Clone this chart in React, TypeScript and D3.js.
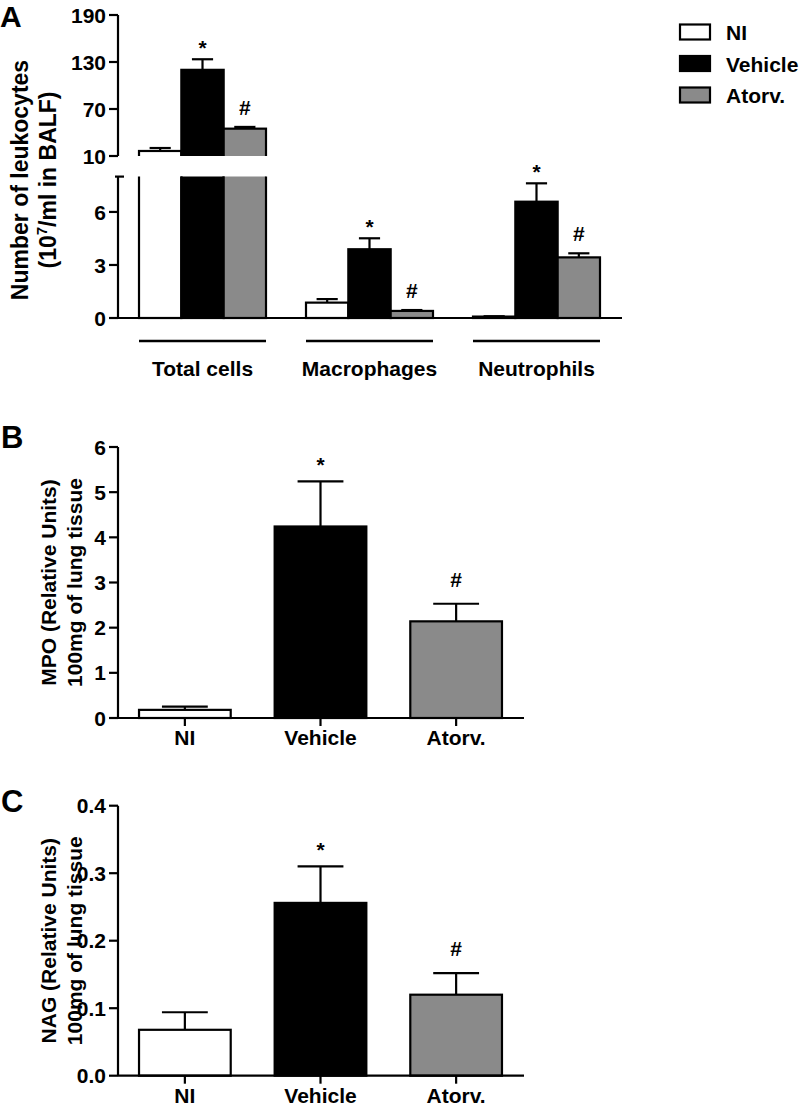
import React from "react";
import * as d3 from "d3";

// ---------- data ----------
const seriesNames = ["NI", "Vehicle", "Atorv."];
const seriesMarks = ["", "*", "#"];

const groupsA = ["Total cells", "Macrophages", "Neutrophils"];
const niA = [16.4, 0.87, 0.08];
const niAErr = [3.8, 0.2, 0.02];
const vehA = [120, 3.89, 6.58];
const vehAErr = [13.5, 0.62, 1.04];
const atoA = [44.9, 0.4, 3.43];
const atoAErr = [2.2, 0.05, 0.23];
const upperDomainA = [10, 190];
const upperTicksA = [10, 70, 130, 190];
const lowerDomainA = [0, 8];
const lowerTicksA = [0, 3, 6];

const valuesB = [0.18, 4.24, 2.14];
const errB = [0.07, 1.0, 0.39];
const ticksB = [0, 1, 2, 3, 4, 5, 6];

const valuesC = [0.068, 0.256, 0.12];
const errC = [0.026, 0.054, 0.032];
const ticksC = [0, 0.1, 0.2, 0.3, 0.4];

// ---------- style ----------
const FONT = "'Liberation Sans', Arial, Helvetica, sans-serif";
const FS = 21;
const fills: Record<string, string> = { NI: "#ffffff", Vehicle: "#000000", "Atorv.": "#8a8a8a" };
const SW = 2.2;
const AXIS_X = 118;

function ErrorBar({ cx, yTop, yCap, w }: { cx: number; yTop: number; yCap: number; w: number }) {
  return (
    <g stroke="#000" strokeWidth={SW} fill="none">
      <line x1={cx} x2={cx} y1={yTop} y2={yCap} />
      <line x1={cx - w / 2} x2={cx + w / 2} y1={yCap} y2={yCap} />
    </g>
  );
}

function Mark({ mark, cx, yCap }: { mark: string; cx: number; yCap: number }) {
  if (!mark) return null;
  const y = mark === "*" ? yCap - 4 : yCap - 12;
  return (
    <text x={cx} y={y} textAnchor="middle" fontSize={FS} fontWeight="bold" fontFamily={FONT}>
      {mark}
    </text>
  );
}

function YTicks({ scale, ticks, fmt }: { scale: (v: number) => number; ticks: number[]; fmt: (v: number) => string }) {
  return (
    <g>
      {ticks.map((t) => (
        <g key={t}>
          <line x1={AXIS_X - 9} x2={AXIS_X} y1={scale(t)} y2={scale(t)} stroke="#000" strokeWidth={SW} />
          <text
            x={AXIS_X - 12}
            y={scale(t)}
            dy="0.36em"
            textAnchor="end"
            fontSize={FS}
            fontWeight="bold"
            fontFamily={FONT}
          >
            {fmt(t)}
          </text>
        </g>
      ))}
    </g>
  );
}

function PanelA() {
  const yUp = d3.scaleLinear().domain(upperDomainA).range([156, 15]);
  const yLo = d3.scaleLinear().domain(lowerDomainA).range([318, 176.6]);
  const x0 = d3.scaleBand().domain(groupsA).range([119, 620]).paddingInner(0.2395).paddingOuter(0.1198);
  const x1 = d3.scaleBand().domain(seriesNames).range([0, x0.bandwidth()]);
  const vals = [niA, vehA, atoA];
  const errs = [niAErr, vehAErr, atoAErr];
  const bw = x1.bandwidth();
  const loTop = yLo(lowerDomainA[1]);
  return (
    <g>
      <defs>
        <clipPath id="clipUp">
          <rect x={0} y={0} width={800} height={yUp(upperDomainA[0])} />
        </clipPath>
        <clipPath id="clipLo">
          <rect x={0} y={loTop} width={800} height={yLo(0) - loTop + 3} />
        </clipPath>
      </defs>
      {groupsA.map((g, gi) =>
        seriesNames.map((s, si) => {
          const v = vals[si][gi];
          const e = errs[si][gi];
          const bx = (x0(g) as number) + (x1(s) as number);
          const cx = bx + bw / 2;
          if (v > lowerDomainA[1]) {
            const yTop = yUp(v);
            const yCap = yUp(v + e);
            return (
              <g key={g + s}>
                <rect
                  x={bx}
                  y={loTop - 10}
                  width={bw}
                  height={yLo(0) - loTop + 10}
                  fill={fills[s]}
                  stroke="#000"
                  strokeWidth={SW}
                  clipPath="url(#clipLo)"
                />
                <rect
                  x={bx}
                  y={yTop}
                  width={bw}
                  height={yUp(upperDomainA[0]) - yTop + 10}
                  fill={fills[s]}
                  stroke="#000"
                  strokeWidth={SW}
                  clipPath="url(#clipUp)"
                />
                <ErrorBar cx={cx} yTop={yTop} yCap={yCap} w={bw / 2} />
                <Mark mark={seriesMarks[si]} cx={cx} yCap={yCap} />
              </g>
            );
          }
          const yTop = yLo(v);
          const yCap = yLo(v + e);
          return (
            <g key={g + s}>
              <rect x={bx} y={yTop} width={bw} height={yLo(0) - yTop} fill={fills[s]} stroke="#000" strokeWidth={SW} />
              <ErrorBar cx={cx} yTop={yTop} yCap={yCap} w={bw / 2} />
              <Mark mark={seriesMarks[si]} cx={cx} yCap={yCap} />
            </g>
          );
        })
      )}
      {/* axes */}
      <line x1={AXIS_X} x2={AXIS_X} y1={yUp(upperDomainA[1])} y2={yUp(upperDomainA[0])} stroke="#000" strokeWidth={SW} />
      <line x1={AXIS_X} x2={AXIS_X} y1={loTop} y2={yLo(0)} stroke="#000" strokeWidth={SW} />
      <line x1={AXIS_X - 3} x2={AXIS_X + 6} y1={loTop} y2={loTop} stroke="#000" strokeWidth={SW} />
      <YTicks scale={yUp} ticks={upperTicksA} fmt={(t) => String(t)} />
      <YTicks scale={yLo} ticks={lowerTicksA} fmt={(t) => String(t)} />
      <line x1={AXIS_X} x2={622} y1={yLo(0)} y2={yLo(0)} stroke="#000" strokeWidth={SW} />
      {groupsA.map((g) => {
        const gx = x0(g) as number;
        return (
          <g key={g}>
            <line x1={gx} x2={gx + x0.bandwidth()} y1={341} y2={341} stroke="#000" strokeWidth={SW + 0.5} />
            <text x={gx + x0.bandwidth() / 2} y={376} textAnchor="middle" fontSize={FS} fontWeight="bold" fontFamily={FONT}>
              {g}
            </text>
          </g>
        );
      })}
      {/* y label */}
      <g transform="translate(28,180) rotate(-90)" fontSize={23} fontWeight="bold" fontFamily={FONT}>
        <text x={0} y={0} textAnchor="middle">
          Number of leukocytes
        </text>
        <text x={0} y={28} textAnchor="middle">
          <tspan>(10</tspan>
          <tspan dy={-9} fontSize={15}>
            7
          </tspan>
          <tspan dy={9}>/ml in BALF)</tspan>
        </text>
      </g>
      {/* legend */}
      {seriesNames.map((s, i) => {
        const cy = 32 + i * 31.5;
        return (
          <g key={s}>
            <rect x={680} y={cy - 7.5} width={30} height={15} fill={fills[s]} stroke="#000" strokeWidth={SW} />
            <text x={726} y={cy + 8} fontSize={FS} fontWeight="bold" fontFamily={FONT}>
              {s}
            </text>
          </g>
        );
      })}
      <text x={0} y={27} fontSize={30} fontWeight="bold" fontFamily={FONT}>
        A
      </text>
    </g>
  );
}

function SimplePanel({
  letter,
  letterY,
  values,
  errs,
  ticks,
  yTopPx,
  yBotPx,
  fmt,
  label1,
  label2,
}: {
  letter: string;
  letterY: number;
  values: number[];
  errs: number[];
  ticks: number[];
  yTopPx: number;
  yBotPx: number;
  fmt: (v: number) => string;
  label1: string;
  label2: string;
}) {
  const y = d3.scaleLinear().domain([ticks[0], ticks[ticks.length - 1]]).range([yBotPx, yTopPx]);
  const x = d3.scaleBand().domain(seriesNames).range([AXIS_X, 523]).paddingInner(0.324).paddingOuter(0.155);
  const bw = x.bandwidth();
  const midY = (yTopPx + yBotPx) / 2;
  return (
    <g>
      {seriesNames.map((s, i) => {
        const bx = x(s) as number;
        const cx = bx + bw / 2;
        const yTop = y(values[i]);
        const yCap = y(values[i] + errs[i]);
        return (
          <g key={s}>
            <rect x={bx} y={yTop} width={bw} height={y(0) - yTop} fill={fills[s]} stroke="#000" strokeWidth={SW} />
            <ErrorBar cx={cx} yTop={yTop} yCap={yCap} w={bw / 2} />
            <Mark mark={seriesMarks[i]} cx={cx} yCap={yCap - 5} />
            <line x1={cx} x2={cx} y1={y(0)} y2={y(0) + 8} stroke="#000" strokeWidth={SW} />
            <text x={cx} y={y(0) + 27} textAnchor="middle" fontSize={FS} fontWeight="bold" fontFamily={FONT}>
              {s}
            </text>
          </g>
        );
      })}
      <line x1={AXIS_X} x2={AXIS_X} y1={y(ticks[ticks.length - 1])} y2={y(0)} stroke="#000" strokeWidth={SW} />
      <line x1={AXIS_X} x2={524} y1={y(0)} y2={y(0)} stroke="#000" strokeWidth={SW} />
      <YTicks scale={y} ticks={ticks} fmt={fmt} />
      <g transform={`translate(56,${midY}) rotate(-90)`} fontSize={FS} fontWeight="bold" fontFamily={FONT}>
        <text x={0} y={0} textAnchor="middle">
          {label1}
        </text>
        <text x={0} y={26} textAnchor="middle">
          {label2}
        </text>
      </g>
      <text x={1} y={letterY} fontSize={31} fontWeight="bold" fontFamily={FONT}>
        {letter}
      </text>
    </g>
  );
}

export default function App() {
  return (
    <svg
      width={800}
      height={1106}
      viewBox="0 0 800 1106"
      style={{ position: "absolute", left: 0, top: 0, background: "#fff" }}
    >
      <rect x={0} y={0} width={800} height={1106} fill="#fff" />
      <PanelA />
      <SimplePanel
        letter="B"
        letterY={448}
        values={valuesB}
        errs={errB}
        ticks={ticksB}
        yTopPx={447}
        yBotPx={718}
        fmt={(t) => String(t)}
        label1="MPO (Relative Units)"
        label2="100mg of lung tissue"
      />
      <SimplePanel
        letter="C"
        letterY={812}
        values={valuesC}
        errs={errC}
        ticks={ticksC}
        yTopPx={805.7}
        yBotPx={1075.7}
        fmt={(t) => d3.format(".1f")(t)}
        label1="NAG (Relative Units)"
        label2="100mg of lung tissue"
      />
    </svg>
  );
}
